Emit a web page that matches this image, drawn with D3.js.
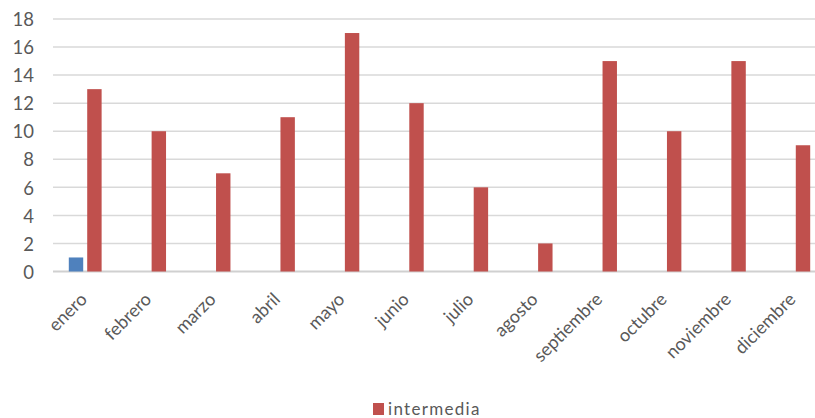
<!DOCTYPE html>
<html><head><meta charset="utf-8">
<script src="https://cdn.jsdelivr.net/npm/d3@7"></script>
<style>body{margin:0;background:#fff}svg{display:block}text{font-family:Lato,"Open Sans",sans-serif;fill:#595959}</style>
</head><body><svg id="c" width="815" height="418"></svg>
<script>
const categories = ["enero","febrero","marzo","abril","mayo","junio","julio","agosto","septiembre","octubre","noviembre","diciembre"];
const seriesNames = ["", "intermedia"];
const blueValues = [1, null, null, null, null, null, null, null, null, null, null, null];
const intermediaValues = [13, 10, 7, 11, 17, 12, 6, 2, 15, 10, 15, 9];
const yTicks = [0,2,4,6,8,10,12,14,16,18];
const colors = ["#4F81BD", "#C0504D"];

(function(){
const svg = d3.select("#c");
const pl = 53, pr = 826, pt = 19, pb = 271.5;
const x0 = d3.scaleBand().domain(categories).range([pl, pr]).padding(0);
const x1 = d3.scaleBand().domain([0,1]).range([0, x0.bandwidth()]).paddingInner(0.217).paddingOuter(0.858);
const y = d3.scaleLinear().domain([0,18]).range([pb, pt]);

svg.append("g").selectAll("line").data(yTicks).join("line")
  .attr("x1", pl).attr("x2", pr)
  .attr("y1", d => y(d)).attr("y2", d => y(d))
  .attr("stroke", d => d === 0 ? "#D0D0D0" : "#D9D9D9").attr("stroke-width", d => d === 0 ? 2 : 1.5);

const yAxis = d3.axisLeft(y).tickValues(yTicks).tickSize(0).tickPadding(0);
const yg = svg.append("g").attr("transform", `translate(34,0)`).call(yAxis);
yg.select(".domain").remove();
yg.selectAll("text").attr("font-size", 18.5).attr("font-family", "Lato, sans-serif").attr("fill", "#595959").attr("dy", "0.36em");

const data = [blueValues, intermediaValues];
data.forEach((vals, si) => {
  svg.append("g").selectAll("rect").data(categories.map((c,i)=>({c, v: vals[i]})).filter(d => d.v != null)).join("rect")
    .attr("x", d => x0(d.c) + x1(si))
    .attr("width", x1.bandwidth())
    .attr("y", d => y(d.v))
    .attr("height", d => y(0) - y(d.v))
    .attr("fill", colors[si]);
});

const xAxis = d3.axisBottom(x0).tickSize(0).tickPadding(0);
const xg = svg.append("g").attr("transform", `translate(0,${pb})`).call(xAxis);
xg.select(".domain").remove();
xg.selectAll("text")
  .attr("font-size", 18).attr("font-family", "Lato, sans-serif").attr("fill", "#595959")
  .attr("text-anchor", "end")
  .attr("transform", "translate(-6,20) rotate(-45)")
  .attr("dy", "0.7em").attr("y", 0);

const lg = svg.append("g");
lg.append("rect").attr("x", 373).attr("y", 403).attr("width", 11).attr("height", 12).attr("fill", colors[1]);
lg.append("text").attr("x", 388).attr("y", 414.5).attr("font-size", 17).attr("letter-spacing", 1.3).text(seriesNames[1]);
})();
</script></body></html>
